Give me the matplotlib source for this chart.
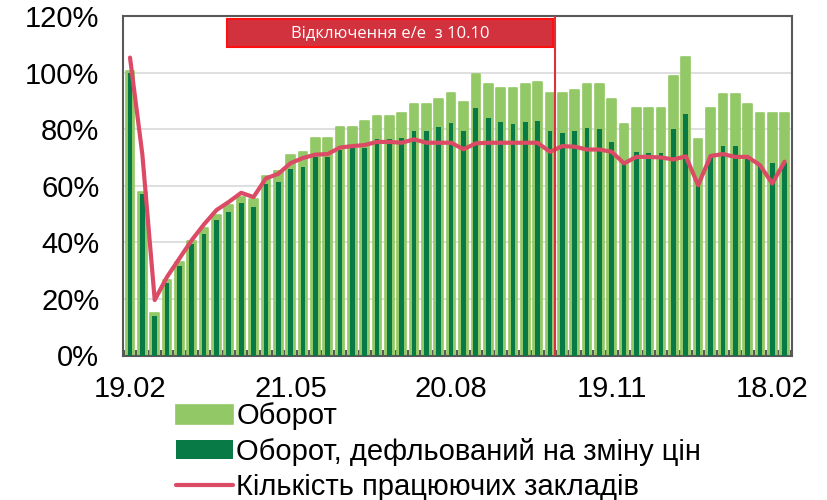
import matplotlib
matplotlib.use("Agg")
import matplotlib.pyplot as plt
from matplotlib.patches import Rectangle
import numpy as np

# weekly data, first week 19.02
turnover = [100.6, 57.9, 15.0, 26.7, 33.0, 40.6, 44.9, 49.6, 53.1, 56.0,
            55.2, 63.5, 65.3, 70.7, 72.0, 76.8, 76.8, 80.6, 80.8, 82.8,
            84.7, 84.7, 85.8, 88.8, 88.8, 90.6, 92.8, 89.6, 99.6, 95.8,
            94.6, 94.6, 95.8, 96.7, 92.8, 92.8, 93.8, 95.8, 95.8, 90.6,
            81.8, 87.6, 87.6, 87.6, 98.7, 105.5, 76.7, 87.6, 92.6, 92.6,
            88.8, 85.8, 85.8, 85.8]
deflated = [100.0, 57.0, 14.0, 25.5, 31.6, 39.3, 43.1, 47.8, 50.8, 53.9,
            52.6, 60.7, 61.3, 65.8, 66.8, 70.2, 70.3, 72.8, 73.2, 73.2,
            76.4, 76.4, 76.9, 79.4, 79.3, 80.6, 82.2, 79.3, 87.6, 83.8,
            82.5, 82.0, 82.5, 82.9, 79.2, 78.6, 79.3, 80.4, 80.0, 75.3,
            68.0, 72.0, 71.6, 71.4, 80.0, 85.5, 60.0, 70.2, 74.1, 74.0,
            70.2, 67.3, 68.1, 68.0]
venues = [105.3, 71.0, 19.6, 27.8, 34.3, 40.8, 46.4, 51.4, 54.3, 57.5,
          56.0, 62.6, 64.2, 68.0, 69.8, 71.0, 71.2, 73.5, 74.0, 74.4,
          75.5, 75.5, 75.2, 76.4, 75.2, 75.2, 75.2, 72.9, 75.0, 75.2,
          75.2, 75.2, 75.2, 75.2, 72.0, 74.0, 73.8, 72.8, 72.8, 72.0,
          67.9, 70.2, 70.2, 70.0, 69.3, 70.4, 60.2, 70.5, 71.2, 70.2,
          70.2, 67.3, 60.8, 68.5]
tick_labels = ["19.02", "21.05", "20.08", "19.11", "18.02"]
tick_step = 13
event_week = 34.4
event_text = "Відключення е/е  з 10.10"
labels = ["Оборот", "Оборот, дефльований на зміну цін", "Кількість працюючих закладів"]

LIGHT = "#92c865"
DARK = "#077a45"
PINK = "#dc4b66"
GREY = "#595959"

plt.rcParams["font.family"] = ["Liberation Sans", "DejaVu Sans"]

x = np.arange(len(turnover))
fig = plt.figure(figsize=(8.27, 5.0), dpi=100)
ax = fig.add_axes([0.1487, 0.289, 0.8090, 0.679])

b1 = ax.bar(x, turnover, width=0.7, color=LIGHT, edgecolor=LIGHT,
            linewidth=1.2, joinstyle="round", zorder=2, label=labels[0])
b2 = ax.bar(x, deflated, width=0.38, color=DARK, linewidth=0, zorder=3,
            label=labels[1])
ln, = ax.plot(x, venues, color=PINK, linewidth=3.0, solid_capstyle="round",
              solid_joinstyle="round", zorder=4, label=labels[2])

ax.axvline(event_week, color="#d9323e", linewidth=1.5, zorder=5)
ax.add_patch(Rectangle((7.85, 108.9), event_week - 0.15 - 7.85, 10.2,
                       facecolor="#d2323e", edgecolor="#ff1010",
                       linewidth=1.5, zorder=6))
ax.text((7.85 + event_week - 0.15) / 2, 114.0, event_text, color="white",
        fontsize=12, family=["Open Sans", "DejaVu Sans"],
        ha="center", va="center", zorder=7)

ax.set_xlim(-0.57, 53.6)
ax.set_ylim(0, 120)
ax.set_yticks(np.arange(0, 121, 20))
ax.set_yticklabels([f"{v}%" for v in range(0, 121, 20)])
ax.set_xticks(np.arange(len(tick_labels)) * tick_step)
ax.set_xticklabels(tick_labels)
ax.set_xticks(np.arange(len(turnover) + 1) - 0.5, minor=True)
ax.tick_params(axis="both", which="major", length=0, labelsize=21,
               colors="black")
ax.tick_params(axis="x", which="major", pad=14)
ax.tick_params(axis="y", which="major", pad=17)
ax.tick_params(axis="x", which="minor", direction="in", length=4,
               width=1.5, color=GREY)
ax.yaxis.grid(True, color="#d9d9d9", linewidth=1.2, zorder=0)
ax.set_axisbelow(True)
for side in ["left", "right", "top", "bottom"]:
    ax.spines[side].set_color(GREY)
    ax.spines[side].set_linewidth(1.5)

fig.legend(handles=[b1, b2, ln], labels=labels, loc="upper left",
           bbox_to_anchor=(0.2125, 0.195), frameon=False, fontsize=21,
           handlelength=1.95, handleheight=0.65, handletextpad=0.13,
           labelspacing=0.25, borderpad=0, borderaxespad=0)

fig.savefig("out.png", dpi=100, facecolor="white")
